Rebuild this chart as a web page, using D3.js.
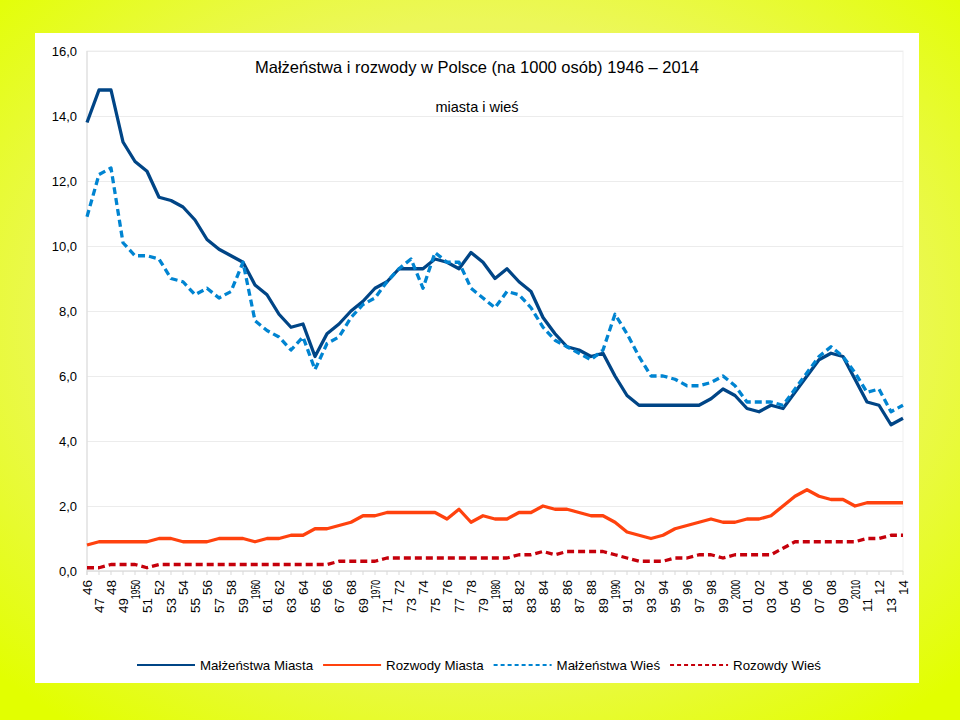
<!DOCTYPE html>
<html><head><meta charset="utf-8">
<script src="https://cdn.jsdelivr.net/npm/d3@7"></script>
<style>
html,body{margin:0;padding:0;}
body{width:960px;height:720px;overflow:hidden;}
text{font-family:"Liberation Sans",Arial,sans-serif;fill:#000;}
</style></head><body>
<svg id="chart" width="960" height="720"></svg>
<script>
const categories = ["46","47","48","49","1950","51","52","53","54","55","56","57","58","59","1960","61","62","63","64","65","66","67","68","69","1970","71","72","73","74","75","76","77","78","79","1980","81","82","83","84","85","86","87","88","89","1990","91","92","93","94","95","96","97","98","99","2000","01","02","03","04","05","06","07","08","09","2010","11","12","13","14"];

const malzenstwaMiasta = [13.8,14.8,14.8,13.2,12.6,12.3,11.5,11.4,11.2,10.8,10.2,9.9,9.7,9.5,8.8,8.5,7.9,7.5,7.6,6.6,7.3,7.6,8.0,8.3,8.7,8.9,9.3,9.3,9.3,9.6,9.5,9.3,9.8,9.5,9.0,9.3,8.9,8.6,7.8,7.3,6.9,6.8,6.6,6.7,6.0,5.4,5.1,5.1,5.1,5.1,5.1,5.1,5.3,5.6,5.4,5.0,4.9,5.1,5.0,5.5,6.0,6.5,6.7,6.6,5.9,5.2,5.1,4.5,4.7];

const rozwodyMiasta = [0.8,0.9,0.9,0.9,0.9,0.9,1.0,1.0,0.9,0.9,0.9,1.0,1.0,1.0,0.9,1.0,1.0,1.1,1.1,1.3,1.3,1.4,1.5,1.7,1.7,1.8,1.8,1.8,1.8,1.8,1.6,1.9,1.5,1.7,1.6,1.6,1.8,1.8,2.0,1.9,1.9,1.8,1.7,1.7,1.5,1.2,1.1,1.0,1.1,1.3,1.4,1.5,1.6,1.5,1.5,1.6,1.6,1.7,2.0,2.3,2.5,2.3,2.2,2.2,2.0,2.1,2.1,2.1,2.1];

const malzenstwaWies = [10.9,12.2,12.4,10.1,9.7,9.7,9.6,9.0,8.9,8.5,8.7,8.4,8.6,9.5,7.7,7.4,7.2,6.8,7.2,6.2,7.0,7.2,7.8,8.2,8.4,8.9,9.3,9.6,8.7,9.8,9.5,9.5,8.7,8.4,8.1,8.6,8.5,8.1,7.5,7.1,6.9,6.7,6.5,6.8,7.9,7.3,6.6,6.0,6.0,5.9,5.7,5.7,5.8,6.0,5.7,5.2,5.2,5.2,5.1,5.6,6.1,6.6,6.9,6.6,6.1,5.5,5.6,4.9,5.1];

const rozwodyWies = [0.1,0.1,0.2,0.2,0.2,0.1,0.2,0.2,0.2,0.2,0.2,0.2,0.2,0.2,0.2,0.2,0.2,0.2,0.2,0.2,0.2,0.3,0.3,0.3,0.3,0.4,0.4,0.4,0.4,0.4,0.4,0.4,0.4,0.4,0.4,0.4,0.5,0.5,0.6,0.5,0.6,0.6,0.6,0.6,0.5,0.4,0.3,0.3,0.3,0.4,0.4,0.5,0.5,0.4,0.5,0.5,0.5,0.5,0.7,0.9,0.9,0.9,0.9,0.9,0.9,1.0,1.0,1.1,1.1];

const seriesNames = ["Małżeństwa Miasta","Rozwody Miasta","Małżeństwa Wieś","Rozowdy Wieś"];
const yTicks = [0,2,4,6,8,10,12,14,16];
const titleText = "Małżeństwa i rozwody w Polsce (na 1000 osób) 1946 – 2014";
const subtitleText = "miasta i wieś";

(function(){
const series = [
  {name: seriesNames[0], values: malzenstwaMiasta, color: "#004586", dash: null},
  {name: seriesNames[1], values: rozwodyMiasta, color: "#ff420e", dash: null},
  {name: seriesNames[2], values: malzenstwaWies, color: "#0084d1", dash: "7,4"},
  {name: seriesNames[3], values: rozwodyWies, color: "#c5000b", dash: "7,4"}
];

const svg = d3.select("#chart");
const defs = svg.append("defs");
const grad = defs.append("radialGradient").attr("id","bg")
  .attr("cx","50%").attr("cy","45%").attr("r","70%");
grad.append("stop").attr("offset","0%").attr("stop-color","#eef47a");
grad.append("stop").attr("offset","60%").attr("stop-color","#ecf75a");
grad.append("stop").attr("offset","100%").attr("stop-color","#e2ff00");
svg.append("rect").attr("width",960).attr("height",720).attr("fill","url(#bg)");
svg.append("rect").attr("x",35).attr("y",33).attr("width",884).attr("height",650).attr("fill","#fff");

const pLeft = 87, pRight = 903, pTop = 51, pBottom = 571;
const x = d3.scalePoint().domain(d3.range(categories.length)).range([pLeft, pRight]);
const y = d3.scaleLinear().domain([0,16]).range([pBottom, pTop]);

svg.append("rect").attr("x",pLeft).attr("y",pTop).attr("width",pRight-pLeft).attr("height",pBottom-pTop)
  .attr("fill","none").attr("stroke","#efefef").attr("stroke-width",1);

const yAxis = d3.axisLeft(y).tickValues(yTicks).tickSize(-(pRight-pLeft)).tickPadding(10)
  .tickFormat(d => d.toFixed(1).replace(".", ","));
const gy = svg.append("g").attr("transform",`translate(${pLeft},0)`).call(yAxis);
gy.select(".domain").remove();
gy.selectAll(".tick line").attr("stroke","#ececec").attr("stroke-width",1);
gy.selectAll(".tick text").attr("font-size",13).attr("fill","#000")
  .style("font-family","'Liberation Sans',Arial,sans-serif");

svg.append("line").attr("x1",pLeft).attr("x2",pLeft).attr("y1",pTop).attr("y2",pBottom+4)
  .attr("stroke","#d9d9d9");
svg.append("line").attr("x1",pLeft).attr("x2",pRight).attr("y1",pBottom).attr("y2",pBottom)
  .attr("stroke","#d9d9d9");

const gx = svg.append("g");
gx.selectAll("line.tk").data(categories).enter().append("line")
  .attr("x1",(d,i)=>x(i)).attr("x2",(d,i)=>x(i)).attr("y1",pBottom).attr("y2",pBottom+4)
  .attr("stroke","#d9d9d9");
gx.selectAll("text").data(categories).enter().append("text")
  .attr("transform",(d,i)=>`translate(${x(i)},${i%2===0?580:598}) rotate(-90)` + (d.length>2 ? " scale(0.64,1)" : ""))
  .attr("text-anchor","end").attr("dy","0.35em").attr("font-size",13.5)
  .text(d=>d);

const line = d3.line().x((d,i)=>x(i)).y(d=>y(d));
series.forEach(s=>{
  svg.append("path").datum(s.values).attr("d",line)
    .attr("fill","none").attr("stroke",s.color).attr("stroke-width",3.3)
    .attr("stroke-linejoin","round")
    .attr("stroke-dasharray",s.dash);
});

svg.append("text").attr("x",477).attr("y",73).attr("text-anchor","middle")
  .attr("font-size",16.5).text(titleText);
svg.append("text").attr("x",477).attr("y",112).attr("text-anchor","middle")
  .attr("font-size",14.5).text(subtitleText);

const lg = svg.append("g");
let lx = 137;
const ly = 665;
series.forEach(s=>{
  lg.append("line").attr("x1",lx).attr("x2",lx+58).attr("y1",ly).attr("y2",ly)
    .attr("stroke",s.color).attr("stroke-width",2).attr("stroke-dasharray",s.dash?"4,3":null);
  const t = lg.append("text").attr("x",lx+63).attr("y",ly).attr("dy","0.35em")
    .attr("font-size",13.3).text(s.name);
  lx = lx + 63 + t.node().getComputedTextLength() + 10;
});
})();
</script>
</body></html>
